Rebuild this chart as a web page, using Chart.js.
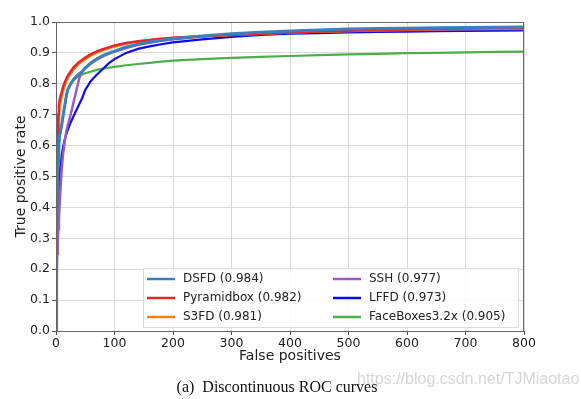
<!DOCTYPE html>
<html>
<head>
<meta charset="utf-8">
<script src="https://cdn.jsdelivr.net/npm/chart.js@4.4.1/dist/chart.umd.min.js"></script>
<style>
  html, body { margin: 0; padding: 0; background: #fff; }
  #wrap { width: 581px; height: 399px; position: relative; }
</style>
</head>
<body>
<div id="wrap"><canvas id="roc"></canvas></div>
<script>
// false positives grid shared by all curves
const falsePos = [0, 1, 2, 3, 4, 5, 6, 8, 10, 12, 15, 18, 20, 25, 30, 35, 40, 45, 50, 60, 70, 80, 90, 100,
    120, 140, 160, 180, 200, 250, 300, 350, 400, 450, 500, 550, 600, 650, 700, 750, 800];

const dsfd = [0, 0.3, 0.45, 0.5, 0.55, 0.6, 0.63, 0.65, 0.67, 0.695, 0.73, 0.765, 0.78, 0.80, 0.814, 0.824, 0.833, 0.84, 0.852, 0.868, 0.881, 0.891, 0.899, 0.906,
    0.919, 0.928, 0.935, 0.941, 0.946, 0.955, 0.962, 0.967, 0.971, 0.974, 0.977, 0.979, 0.980, 0.981, 0.982, 0.983, 0.984];
const pyramidbox = [0, 0.35, 0.5, 0.6, 0.7, 0.735, 0.745, 0.76, 0.775, 0.79, 0.805, 0.818, 0.826, 0.84, 0.853, 0.863, 0.871, 0.878, 0.885, 0.896, 0.905, 0.912, 0.918, 0.924,
    0.932, 0.938, 0.942, 0.946, 0.949, 0.954, 0.958, 0.962, 0.966, 0.969, 0.972, 0.974, 0.976, 0.978, 0.979, 0.981, 0.982];
const s3fd = [0, 0.3, 0.45, 0.55, 0.65, 0.7, 0.725, 0.745, 0.762, 0.777, 0.795, 0.81, 0.818, 0.833, 0.846, 0.857, 0.866, 0.873, 0.88, 0.892, 0.901, 0.909, 0.915, 0.921,
    0.93, 0.936, 0.941, 0.945, 0.948, 0.954, 0.958, 0.962, 0.966, 0.969, 0.971, 0.973, 0.975, 0.977, 0.978, 0.98, 0.981];
const ssh = [0, 0.15, 0.25, 0.29, 0.33, 0.36, 0.40, 0.47, 0.53, 0.57, 0.615, 0.65, 0.665, 0.70, 0.74, 0.78, 0.82, 0.84, 0.85, 0.866, 0.879, 0.889, 0.897, 0.904,
    0.916, 0.926, 0.933, 0.939, 0.944, 0.953, 0.959, 0.963, 0.966, 0.969, 0.971, 0.973, 0.974, 0.975, 0.976, 0.977, 0.977];
const lffd = [0, 0.2, 0.35, 0.42, 0.46, 0.49, 0.51, 0.54, 0.57, 0.595, 0.62, 0.64, 0.65, 0.675, 0.695, 0.715, 0.735, 0.755, 0.78, 0.81, 0.83, 0.848, 0.866, 0.88,
    0.9, 0.913, 0.921, 0.928, 0.934, 0.944, 0.952, 0.958, 0.962, 0.964, 0.966, 0.968, 0.969, 0.970, 0.971, 0.972, 0.973];
const faceboxes = [0, 0.3, 0.45, 0.5, 0.55, 0.6, 0.63, 0.65, 0.67, 0.695, 0.73, 0.765, 0.78, 0.80, 0.812, 0.82, 0.826, 0.83, 0.834, 0.84, 0.845, 0.849, 0.852, 0.855,
    0.86, 0.864, 0.868, 0.872, 0.875, 0.88, 0.884, 0.887, 0.89, 0.893, 0.895, 0.897, 0.899, 0.900, 0.902, 0.903, 0.904];

const seriesNames = ['DSFD (0.984)', 'Pyramidbox (0.982)', 'S3FD (0.981)', 'SSH (0.977)', 'LFFD (0.973)', 'FaceBoxes3.2x (0.905)'];
const seriesValues = [dsfd, pyramidbox, s3fd, ssh, lffd, faceboxes];
const seriesColors = ['#3d7fbd', '#e2282a', '#ff800e', '#9a5cbc', '#0c0ce6', '#4caf4c'];
const seriesWidths = [3, 2.5, 2.5, 2.5, 2.2, 2.2];

const xTicks = [0, 100, 200, 300, 400, 500, 600, 700, 800];
const yTicks = [0, 0.1, 0.2, 0.3, 0.4, 0.5, 0.6, 0.7, 0.8, 0.9, 1.0];

const FONT = "'DejaVu Sans', sans-serif";

// legend box drawn inside the plot, two columns like matplotlib
const insideLegend = {
    id: 'insideLegend',
    afterDatasetsDraw(chart) {
        const ctx = chart.ctx;
        const area = chart.chartArea;
        // frame around plot
        ctx.save();
        ctx.strokeStyle = '#666';
        ctx.lineWidth = 1;
        ctx.strokeRect(area.left + 0.5, area.top + 0.5, area.right - area.left - 1, area.bottom - area.top);
        ctx.restore();

        const box = { x: 143, y: 268, w: 375, h: 59 };
        ctx.save();
        ctx.fillStyle = 'rgba(255,255,255,0.85)';
        ctx.strokeStyle = '#dcdcdc';
        ctx.lineWidth = 1;
        ctx.beginPath();
        ctx.rect(box.x + 0.5, box.y + 0.5, box.w, box.h);
        ctx.fill();
        ctx.stroke();

        ctx.font = '12px ' + FONT;
        ctx.textBaseline = 'middle';
        chart.data.datasets.forEach(function(ds, i) {
            const col = Math.floor(i / 3);
            const row = i % 3;
            const lx = col === 0 ? 147 : 333;
            const ly = 279 + row * 19;
            ctx.strokeStyle = ds.borderColor;
            ctx.lineWidth = 2.5;
            ctx.beginPath();
            ctx.moveTo(lx, ly);
            ctx.lineTo(lx + 28, ly);
            ctx.stroke();
            ctx.fillStyle = '#222';
            ctx.fillText(ds.label, lx + 36, ly);
        });
        ctx.restore();
    },
    afterDraw(chart) {
        const ctx = chart.ctx;
        ctx.save();
        ctx.fillStyle = 'rgba(200,200,200,0.75)';
        ctx.font = "16px 'Liberation Sans', sans-serif";
        ctx.textAlign = 'left';
        ctx.textBaseline = 'middle';
        ctx.fillText('https://blog.csdn.net/TJMiaotao', 357, 380);
        ctx.fillStyle = '#111';
        ctx.font = "16px 'Liberation Serif', serif";
        ctx.textAlign = 'center';
        ctx.fillText('(a)  Discontinuous ROC curves', 277, 388);
        ctx.restore();
    }
};

new Chart(document.getElementById('roc'), {
    type: 'line',
    data: {
        datasets: seriesNames.map(function(name, i) {
            return {
                label: name,
                data: falsePos.map(function(fp, k) { return { x: fp, y: seriesValues[i][k] }; }),
                borderColor: seriesColors[i],
                backgroundColor: seriesColors[i],
                borderWidth: seriesWidths[i],
                pointRadius: 0,
                tension: 0,
                fill: false
            };
        })
    },
    options: {
        responsive: true,
        maintainAspectRatio: false,
        animation: false,
        layout: { padding: { left: 0, right: 57, top: 22, bottom: 0 } },
        plugins: {
            legend: { display: false },
            tooltip: { enabled: false }
        },
        scales: {
            x: {
                type: 'linear',
                min: 0,
                max: 800,
                afterBuildTicks: function(axis) { axis.ticks = xTicks.map(function(v) { return { value: v }; }); },
                afterFit: function(axis) { axis.height = 68; },
                grid: { color: '#dadada', tickColor: '#555', tickLength: 4 },
                border: { color: '#555' },
                ticks: { color: '#222', font: { family: FONT, size: 12.5 }, padding: 1, maxRotation: 0 },
                title: { display: true, text: 'False positives', color: '#222', font: { family: FONT, size: 14 }, padding: { top: 0, bottom: 34 } }
            },
            y: {
                type: 'linear',
                min: 0,
                max: 1,
                afterBuildTicks: function(axis) { axis.ticks = yTicks.map(function(v) { return { value: v }; }); },
                afterFit: function(axis) { axis.width = 56; },
                grid: { color: '#dadada', tickColor: '#555', tickLength: 4 },
                border: { color: '#555' },
                ticks: {
                    color: '#222',
                    font: { family: FONT, size: 12.5 },
                    padding: 2,
                    callback: function(v) { return v.toFixed(1); }
                },
                title: { display: true, text: 'True positive rate', color: '#222', font: { family: FONT, size: 14 }, padding: { top: 13, bottom: 0 } }
            }
        }
    },
    plugins: [insideLegend]
});
</script>
</body>
</html>
